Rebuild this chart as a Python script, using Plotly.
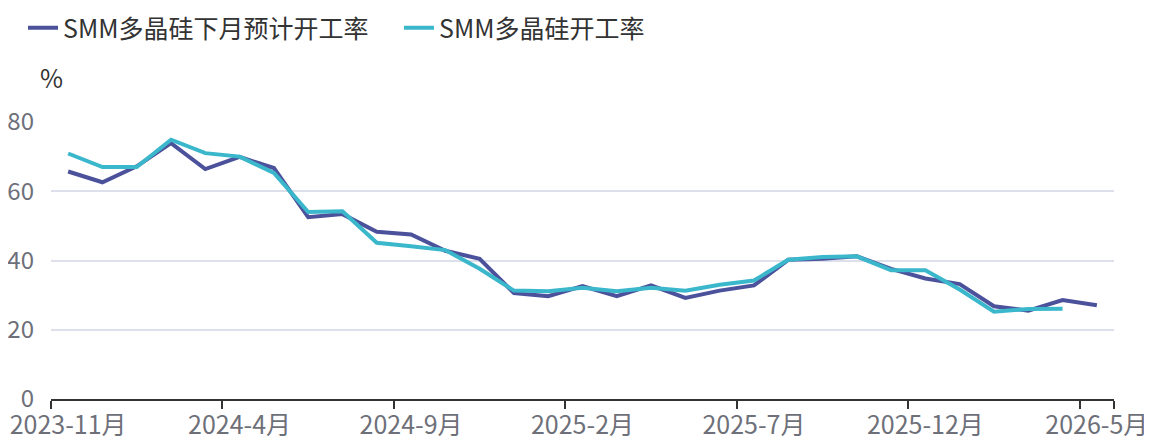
import plotly.graph_objects as go

months = ["2023-11月", "2023-12月", "2024-1月", "2024-2月", "2024-3月", "2024-4月",
          "2024-5月", "2024-6月", "2024-7月", "2024-8月", "2024-9月", "2024-10月",
          "2024-11月", "2024-12月", "2025-1月", "2025-2月", "2025-3月", "2025-4月",
          "2025-5月", "2025-6月", "2025-7月", "2025-8月", "2025-9月", "2025-10月",
          "2025-11月", "2025-12月", "2026-1月", "2026-2月", "2026-3月", "2026-4月",
          "2026-5月"]

expected_rate = [65.7, 62.6, 67.2, 73.9, 66.4, 69.9, 66.7, 52.5, 53.4, 48.3, 47.5,
                 42.8, 40.5, 30.6, 29.7, 32.6, 29.7, 32.8, 29.2, 31.3, 32.8, 40.2,
                 40.5, 41.2, 37.6, 34.8, 33.2, 26.8, 25.5, 28.6, 27.1]
actual_rate = [70.9, 67.0, 67.0, 74.9, 71.0, 70.0, 65.3, 54.0, 54.2, 45.1, 44.1,
               43.0, 37.6, 31.3, 31.1, 32.1, 31.1, 32.1, 31.3, 33.0, 34.2, 40.2,
               41.0, 41.2, 37.2, 37.2, 31.6, 25.2, 26.0, 26.1, None]

series_names = ["SMM多晶硅下月预计开工率", "SMM多晶硅开工率"]
y_ticks = [0, 20, 40, 60, 80]
x_tick_labels = months[::5]

FONT = "Noto Sans CJK SC"
# the page body adds an 8px offset, so the figure is sized to fill the rest
W, H = 1144, 433
L, R, T, B = 43, 38, 114, 42
PW, PH = W - L - R, H - T - B

fig = go.Figure()
fig.add_trace(go.Scatter(x=months, y=expected_rate, name=series_names[0], mode="lines",
                         line=dict(color="#4b529b", width=4)))
fig.add_trace(go.Scatter(x=months, y=actual_rate, name=series_names[1], mode="lines",
                         line=dict(color="#3bb7cc", width=4)))

fig.update_layout(
    width=W, height=H,
    margin=dict(l=L, r=R, t=T, b=B, autoexpand=False),
    paper_bgcolor="white", plot_bgcolor="white",
    font=dict(family=FONT, size=25, color="#6e7079"),
    showlegend=True,
    legend=dict(orientation="h", x=(15 - L) / PW, xref="paper",
                y=1 + (T - 20) / PH, yref="paper",
                xanchor="left", yanchor="middle",
                font=dict(family=FONT, size=25, color="#333333"),
                itemwidth=30, tracegroupgap=0, bgcolor="rgba(0,0,0,0)",
                entrywidth=331, entrywidthmode="pixels"),
    xaxis=dict(type="category", categoryorder="array", categoryarray=months,
               range=[-0.5, len(months) - 0.5], automargin=False,
               tickmode="array", tickvals=x_tick_labels, ticktext=x_tick_labels,
               tickangle=0, ticklabelstandoff=3,
               tickson="boundaries", ticks="outside", ticklen=8, tickcolor="#333333",
               tickwidth=2,
               showline=True, linecolor="#333333", linewidth=2,
               showgrid=False, zeroline=False,
               tickfont=dict(family=FONT, size=25, color="#6e7079")),
    yaxis=dict(range=[0, 80], tickvals=y_ticks, showgrid=True, gridcolor="#dde0ea",
               gridwidth=2, zeroline=False, showline=False, ticks="",
               ticklabelstandoff=16, automargin=False,
               tickfont=dict(family=FONT, size=24, color="#6e7079")),
    annotations=[dict(text="%", x=(43 - L) / PW, y=(H - B - 69) / PH,
                      xref="paper", yref="paper", showarrow=False,
                      xanchor="center", yanchor="middle",
                      font=dict(family=FONT, size=25, color="#333333"))],
)

fig.write_html("out.html")
